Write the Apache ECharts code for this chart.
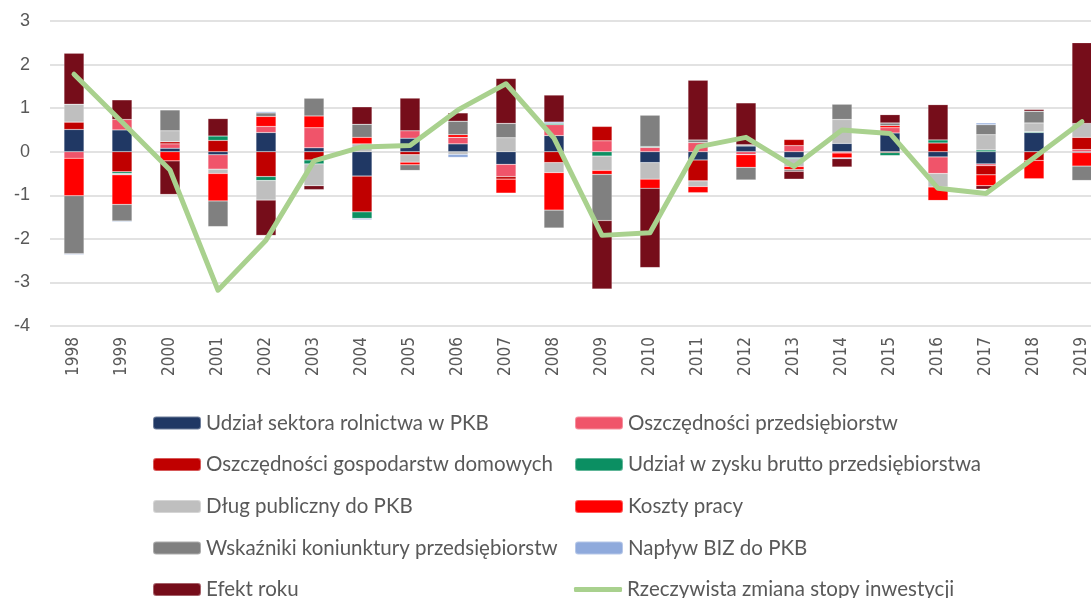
<!DOCTYPE html>
<html>
<head>
<meta charset="utf-8">
<script src="https://cdn.jsdelivr.net/npm/echarts@6/dist/echarts.min.js"></script>
<style>
  html, body { margin: 0; padding: 0; background: #fff; overflow: hidden; }
  #chart { width: 1106px; height: 598px; }
</style>
</head>
<body>
<div id="chart"></div>
<script>
// Years on the category axis
const years = ['1998','1999','2000','2001','2002','2003','2004','2005','2006','2007','2008',
               '2009','2010','2011','2012','2013','2014','2015','2016','2017','2018','2019'];

// Contributions to the change of the investment rate (p.p.)
const rolnictwo = [0.51, 0.50, 0.08, -0.07, 0.44, 0.09, -0.56, 0.31, 0.18, -0.29, 0.37, 0, -0.25, -0.19, 0.13, -0.14, 0.19, 0.43, -0.12, -0.28, 0.44, -0.02];
const oszczPrzeds = [-0.15, 0.24, 0.10, -0.33, 0.14, 0.46, 0, 0.17, 0.15, -0.28, 0.25, 0.25, 0.10, 0.21, -0.07, 0.14, -0.03, 0.12, -0.38, -0.04, 0, 0.05];
const oszczGosp = [0.17, -0.46, 0.05, 0.26, -0.57, -0.19, -0.82, -0.07, 0, -0.06, -0.25, 0.33, 0, -0.48, 0, 0.14, 0, -0.02, 0.20, -0.21, -0.20, 0.28];
const zyskBrutto = [0, -0.04, 0, 0.10, -0.09, -0.09, -0.15, 0, 0, 0, 0.03, -0.10, 0.02, 0, 0, -0.02, 0, -0.07, 0.07, 0.04, 0.02, 0];
const dlugPubl = [0.41, -0.03, 0.25, -0.10, -0.45, -0.50, 0.18, -0.17, -0.06, 0.32, -0.23, -0.33, -0.38, -0.13, 0.03, -0.18, 0.55, 0, -0.31, 0.35, 0.20, 0.32];
const kosztyPracy = [-0.86, -0.68, -0.21, -0.63, 0.23, 0.27, 0.15, -0.06, 0.06, -0.32, -0.86, -0.09, -0.21, -0.14, -0.29, -0.07, -0.11, 0.05, -0.31, -0.25, -0.42, -0.31];
const koniunktura = [-1.33, -0.38, 0.48, -0.59, 0.08, 0.41, 0.30, -0.13, 0.31, 0.33, -0.41, -1.06, 0.72, 0.06, -0.29, -0.04, 0.35, 0.06, 0, 0.23, 0.27, -0.33];
const naplywBiz = [-0.02, -0.02, 0, 0, 0.03, 0, -0.03, 0, -0.07, 0, 0.03, 0, 0, 0, 0, 0, -0.02, 0, 0, 0.04, 0, 0];
const efektRoku = [1.17, 0.45, -0.77, 0.40, -0.81, -0.09, 0.40, 0.75, 0.19, 1.03, 0.62, -1.57, -1.82, 1.37, 0.96, -0.18, -0.19, 0.19, 0.81, -0.08, 0.04, 1.85];

// Actual change of the investment rate
const rzeczywista = [1.78, 0.68, -0.42, -3.18, -2.03, -0.21, 0.11, 0.14, 0.96, 1.56, 0.31, -1.92, -1.86, 0.11, 0.33, -0.34, 0.50, 0.42, -0.84, -0.96, -0.14, 0.69];

// Y axis ticks
const yTicks = [-4, -3, -2, -1, 0, 1, 2, 3];

const barSeries = [
  { name: 'Udział sektora rolnictwa w PKB', data: rolnictwo, color: '#203864' },
  { name: 'Oszczędności przedsiębiorstw', data: oszczPrzeds, color: '#F0546A' },
  { name: 'Oszczędności gospodarstw domowych', data: oszczGosp, color: '#C00000' },
  { name: 'Udział w zysku brutto przedsiębiorstwa', data: zyskBrutto, color: '#0B8F62' },
  { name: 'Dług publiczny do PKB', data: dlugPubl, color: '#BFBFBF' },
  { name: 'Koszty pracy', data: kosztyPracy, color: '#FF0000' },
  { name: 'Wskaźniki koniunktury przedsiębiorstw', data: koniunktura, color: '#808080' },
  { name: 'Napływ BIZ do PKB', data: naplywBiz, color: '#8FAADC' },
  { name: 'Efekt roku', data: efektRoku, color: '#760D1A' }
];
const lineName = 'Rzeczywista zmiana stopy inwestycji';
const lineColor = '#A9D18E';

const textColor = '#595959';
const legendFont = "Lato, 'Open Sans', sans-serif";
const axisFont = "'Liberation Sans', Arial, sans-serif";
const yearFont = "'DejaVu Sans Condensed', 'Liberation Sans', sans-serif";

// Legend laid out in two columns, five rows
const legendNames = barSeries.map(s => s.name).concat([lineName]);
const colLeft = [152, 574];
const rowCenter = [423, 464.5, 506.5, 548, 589.5];
const legends = legendNames.map((name, i) => {
  const isLine = name === lineName;
  return {
    data: [isLine ? { name: name, icon: 'roundRect', itemStyle: { color: lineColor } } : name],
    left: colLeft[i % 2],
    top: rowCenter[Math.floor(i / 2)] - 11,
    itemWidth: 48,
    itemHeight: isLine ? 5 : 13,
    padding: 0,
    textStyle: { color: textColor, fontSize: 20.5, fontFamily: legendFont, lineHeight: 22 }
  };
});

const chart = echarts.init(document.getElementById('chart'), null, { renderer: 'canvas' });

const series = barSeries.map(s => ({
  name: s.name,
  type: 'bar',
  stack: 'total',
  barWidth: 20,
  data: s.data,
  itemStyle: { color: s.color, borderColor: 'rgba(255,255,255,0.35)', borderWidth: 0.5 },
  emphasis: { disabled: true }
}));
series.push({
  name: lineName,
  type: 'line',
  data: rzeczywista,
  symbol: 'none',
  z: 10,
  lineStyle: { color: lineColor, width: 5, cap: 'round', join: 'round' },
  itemStyle: { color: lineColor },
  emphasis: { disabled: true }
});

chart.setOption({
  animation: false,
  backgroundColor: '#fff',
  legend: legends,
  // the plot runs past the right edge of the visible page
  grid: { left: 50, top: 21, right: 0, height: 305, containLabel: false },
  xAxis: {
    type: 'category',
    data: years,
    axisLine: { show: false, onZero: false },
    axisTick: { show: false },
    axisLabel: {
      rotate: 90,
      margin: 11,
      color: textColor,
      fontSize: 17,
      fontFamily: yearFont
    },
    splitLine: { show: false }
  },
  yAxis: {
    type: 'value',
    min: yTicks[0],
    max: yTicks[yTicks.length - 1],
    interval: 1,
    axisLine: { show: false },
    axisTick: { show: false },
    axisLabel: {
      color: textColor,
      fontSize: 18,
      fontFamily: axisFont,
      margin: 20
    },
    splitLine: { lineStyle: { color: '#D9D9D9', width: 1.5 } }
  },
  series: series
});
</script>
</body>
</html>
